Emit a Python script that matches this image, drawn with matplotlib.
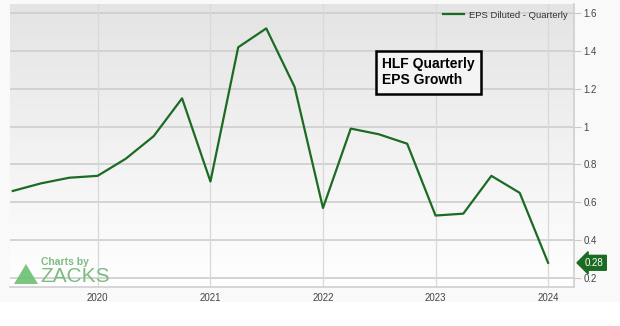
import numpy as np
import matplotlib
matplotlib.use("Agg")
import matplotlib.pyplot as plt
import matplotlib.dates as mdates
from matplotlib.patches import Polygon, Rectangle
from datetime import date

plt.rcParams['font.family'] = ['Liberation Sans', 'DejaVu Sans']

# quarterly diluted EPS, Q1 2019 .. Q4 2023 (plotted at quarter end)
quarters = [date(2019, 4, 1), date(2019, 7, 1), date(2019, 10, 1), date(2020, 1, 1),
            date(2020, 4, 1), date(2020, 7, 1), date(2020, 10, 1), date(2021, 1, 1),
            date(2021, 4, 1), date(2021, 7, 1), date(2021, 10, 1), date(2022, 1, 1),
            date(2022, 4, 1), date(2022, 7, 1), date(2022, 10, 1), date(2023, 1, 1),
            date(2023, 4, 1), date(2023, 7, 1), date(2023, 10, 1), date(2024, 1, 1)]
eps = [0.66, 0.70, 0.73, 0.74, 0.83, 0.95, 1.15, 0.71, 1.42, 1.52,
       1.21, 0.57, 0.99, 0.96, 0.91, 0.53, 0.54, 0.74, 0.65, 0.28]
y_ticks = [0.2, 0.4, 0.6, 0.8, 1.0, 1.2, 1.4, 1.6]
year_ticks = [2020, 2021, 2022, 2023, 2024]

green = '#1c6b23'

fig = plt.figure(figsize=(6.2, 3.26), dpi=100, facecolor='white')
fig.patches.append(Rectangle((0, 24 / 326), 1, 1 - 24 / 326, transform=fig.transFigure,
                             facecolor='#f9f9f9', edgecolor='none', zorder=-10))
ax = fig.add_axes([10 / 620, 1 - 287 / 326, 564 / 620, 283 / 326])

# gray-to-white gradient inside the plot
grad = np.linspace(0, 1, 256).reshape(-1, 1)
ax.imshow(grad, cmap=matplotlib.colors.LinearSegmentedColormap.from_list('g', ['#e4e4e4', '#ffffff']),
          aspect='auto', extent=[0, 1, 0, 1], transform=ax.transAxes, zorder=0)

ax.plot(quarters, eps, color=green, lw=1.6, zorder=3, label='EPS Diluted - Quarterly')

ax.set_xlim(date(2019, 3, 23), date(2024, 3, 25))
ax.set_ylim(0.152, 1.649)

ax.yaxis.tick_right()
ax.set_yticks(y_ticks)
ax.set_yticklabels([f'{v:g}' for v in y_ticks])
ax.set_xticks([date(y, 1, 1) for y in year_ticks])
ax.set_xticklabels([str(y) for y in year_ticks])
ax.tick_params(axis='y', length=5, color='#c8c8c8', labelsize=7, labelcolor='#444444', pad=2)
ax.tick_params(axis='x', length=0, labelsize=7, labelcolor='#444444', pad=4)

for v in y_ticks:
    ax.axhline(v, color='#d0d0d0', lw=1.3, zorder=1)
for y in year_ticks:
    ax.axvline(date(y, 1, 1), color='#d8d8d8', lw=0.9, zorder=1)

for s in ['top', 'left']:
    ax.spines[s].set_visible(False)
for s in ['bottom', 'right']:
    ax.spines[s].set_color('#d0d0d0')
    ax.spines[s].set_linewidth(1.2)

leg = ax.legend(loc='upper right', frameon=False, fontsize=6.8, handlelength=2.2,
                handletextpad=0.5, borderaxespad=0.3, labelcolor='#333333')

ax.text(0.66, 0.812, 'HLF Quarterly\nEPS Growth', transform=ax.transAxes,
        fontsize=10, fontweight='bold', va='top', ha='left', linespacing=1.2, zorder=5,
        bbox=dict(boxstyle='square,pad=0.45', facecolor='#f4f4f4', edgecolor='black', lw=1.8))

# last value tag on the right axis
last = eps[-1]
ax.annotate(f'{last:.2f}', xy=(1.0, last), xycoords=('axes fraction', 'data'),
            xytext=(8, 0), textcoords='offset points', va='center', ha='left',
            fontsize=7, color='white', annotation_clip=False, zorder=6,
            bbox=dict(boxstyle='larrow,pad=0.25', facecolor=green, edgecolor=green))

# Zacks watermark
fig.text(41 / 620, 1 - 262 / 326, 'Charts by', fontsize=7.5, fontweight='bold',
         color='#7dbb82', va='center', ha='left')
fig.text(40 / 620, 1 - 276 / 326, 'ZACKS', fontsize=15, color='#7dbb82',
         va='center', ha='left')
fig.patches.append(Polygon([(14 / 620, 1 - 284 / 326), (38 / 620, 1 - 284 / 326),
                            (26 / 620, 1 - 264 / 326)], closed=True, transform=fig.transFigure,
                           facecolor='#6cc070', edgecolor='none', alpha=0.9, zorder=5))

fig.savefig('out.png', dpi=100, facecolor=fig.get_facecolor())
